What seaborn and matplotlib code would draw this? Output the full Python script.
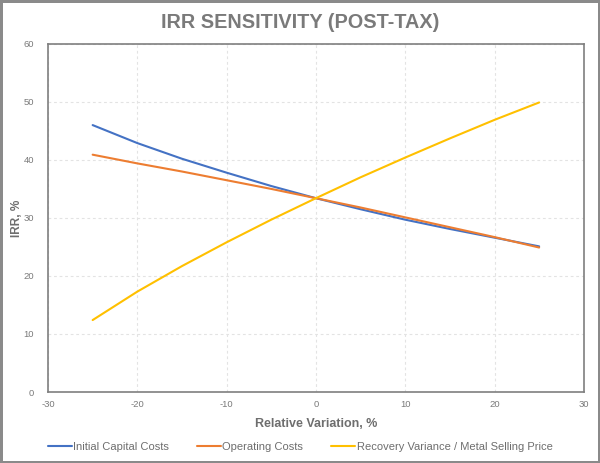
import matplotlib
matplotlib.use("Agg")
import matplotlib.pyplot as plt
import seaborn as sns
import pandas as pd

variation = [-25, -20, -15, -10, -5, 0, 5, 10, 15, 20, 25]
initial_capital = [46.0, 42.9, 40.2, 37.8, 35.5, 33.4, 31.5, 29.7, 28.1, 26.6, 25.1]
operating_costs = [40.9, 39.4, 38.0, 36.5, 35.0, 33.4, 31.8, 30.1, 28.4, 26.7, 24.9]
recovery_price = [12.4, 17.3, 21.7, 25.8, 29.7, 33.4, 37.0, 40.4, 43.7, 46.9, 49.9]
series_names = ["Initial Capital Costs", "Operating Costs",
                "Recovery Variance / Metal Selling Price"]
colors = ["#4472C4", "#ED7D31", "#FFC000"]

rows = []
for name, vals in zip(series_names, [initial_capital, operating_costs, recovery_price]):
    for x, v in zip(variation, vals):
        rows.append({"Relative Variation, %": x, "IRR, %": v, "Series": name})
df = pd.DataFrame(rows)

sns.set_theme(style="white")
plt.rcParams['font.family'] = ['Liberation Sans', 'DejaVu Sans']
plt.rcParams['axes.unicode_minus'] = False

fig = plt.figure(figsize=(6, 4.63), dpi=100, edgecolor="#8a8a8a", linewidth=2.5)
ax = fig.add_axes([0.08, 0.1533, 0.893, 0.752])

sns.lineplot(data=df, x="Relative Variation, %", y="IRR, %", hue="Series",
             palette=colors, linewidth=1.5, ax=ax, legend=False)

ax.set_xlim(-30, 30)
ax.set_ylim(0, 60)
ax.set_xticks(range(-30, 31, 10))
ax.set_yticks(range(0, 61, 10))
ax.grid(True, color="#e3e3e3", linestyle=(0, (2.5, 2.5)), linewidth=0.8)
for s in ax.spines.values():
    s.set_color("#7f7f7f")
    s.set_linewidth(1.2)
ax.tick_params(axis="x", length=0, labelsize=6.8, colors="#7a7a7a", pad=6)
ax.tick_params(axis="y", length=0, labelsize=6.8, colors="#7a7a7a", pad=10)
ax.set_xlabel("Relative Variation, %", fontsize=9, fontweight="bold", color="#6e6e6e", labelpad=6)
ax.set_ylabel("IRR, %", fontsize=8.5, fontweight="bold", color="#6e6e6e")
ax.yaxis.set_label_coords(-0.046, 0.5)

fig.text(0.5, 1 - 23 / 463, "IRR SENSITIVITY (POST-TAX)", ha="center", va="center",
         fontsize=14.3, fontweight="bold", color="#7a7a7a")

handles = [plt.Line2D([], [], color=c, linewidth=1.5) for c in colors]
fig.legend(handles, series_names, loc="center", bbox_to_anchor=(0.5, 0.034), ncol=3,
           frameon=False, fontsize=8, handlelength=2.2, handletextpad=0.1,
           columnspacing=2.5, labelcolor="#6e6e6e")

fig.savefig("out.png", dpi=100, edgecolor=fig.get_edgecolor())
